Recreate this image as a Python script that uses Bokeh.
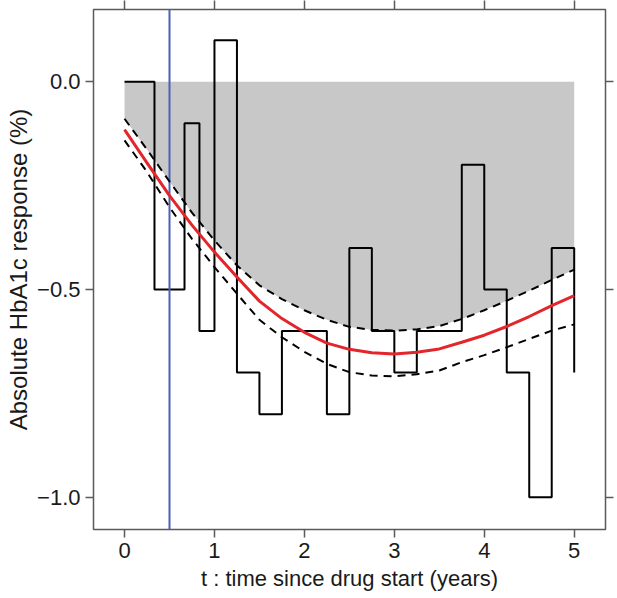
from bokeh.plotting import figure
from bokeh.models import Range1d, FixedTicker, LinearAxis
from bokeh.embed import file_html
from bokeh.resources import INLINE

# Observed responses at visit times (step series)
visit_t = [0.0, 0.333, 0.667, 0.833, 1.0, 1.25, 1.5, 1.75, 2.25, 2.5,
           2.75, 3.0, 3.25, 3.75, 4.0, 4.25, 4.5, 4.75, 5.0]
visit_resp = [0.0, -0.5, -0.1, -0.6, 0.1, -0.7, -0.8, -0.6, -0.8, -0.4,
              -0.6, -0.7, -0.6, -0.2, -0.5, -0.7, -1.0, -0.4, -0.7]

# Fitted response curve and its confidence band
curve_t = [0.0, 0.25, 0.5, 0.75, 1.0, 1.25, 1.5, 1.75, 2.0, 2.25, 2.5,
           2.75, 3.0, 3.25, 3.5, 3.75, 4.0, 4.25, 4.5, 4.75, 5.0]
fit_resp = [-0.115, -0.195, -0.274, -0.345, -0.410, -0.470, -0.528, -0.570,
            -0.603, -0.629, -0.644, -0.652, -0.655, -0.651, -0.643, -0.627,
            -0.610, -0.589, -0.565, -0.539, -0.515]
upper_resp = [-0.089, -0.163, -0.240, -0.315, -0.382, -0.442, -0.490, -0.523,
              -0.550, -0.573, -0.590, -0.597, -0.599, -0.596, -0.588, -0.571,
              -0.550, -0.527, -0.503, -0.477, -0.452]
lower_resp = [-0.141, -0.217, -0.302, -0.378, -0.446, -0.510, -0.573, -0.615,
              -0.650, -0.679, -0.699, -0.707, -0.709, -0.704, -0.695, -0.675,
              -0.658, -0.639, -0.619, -0.599, -0.584]
zero_line = [0.0] * len(curve_t)

marker_t = [0.5]

x_ticks = [0, 1, 2, 3, 4, 5]
y_ticks = [-1.0, -0.5, 0.0]
y_tick_labels = ["\u22121.0", "\u22120.5", "0.0"]

FONT = "Liberation Sans"
FRAME_COL = "#5a5a5a"
TEXT_COL = "#1a1a1a"

p = figure(width=617, height=598, output_backend="svg", toolbar_location=None,
           x_range=Range1d(-0.345, 5.348), y_range=Range1d(-1.0777, 0.174),
           min_border_left=93, min_border_right=12, min_border_top=9,
           min_border_bottom=69)
p.grid.visible = False
p.outline_line_color = FRAME_COL
p.outline_line_width = 1.5
p.background_fill_color = "white"
p.border_fill_color = "white"

# shaded region between zero and upper confidence bound
p.varea(x=curve_t, y1=zero_line, y2=upper_resp, fill_color="#c8c8c8")
# observed step series
p.step(visit_t, visit_resp, mode="after", line_color="black", line_width=2)
# drug start marker
p.vspan(x=marker_t, line_color="#4a60b6", line_width=2)
# confidence band
p.line(curve_t, upper_resp, line_color="black", line_width=2, line_dash="8 6")
p.line(curve_t, lower_resp, line_color="black", line_width=2, line_dash="8 6")
# fitted curve
p.line(curve_t, fit_resp, line_color="#e3262b", line_width=3, line_join="round")

for ax in (p.xaxis[0], p.yaxis[0]):
    ax.axis_line_color = None
    ax.major_tick_line_color = FRAME_COL
    ax.major_tick_line_width = 1.5
    ax.major_tick_in = 0
    ax.major_tick_out = 8
    ax.minor_tick_line_color = None
    ax.major_label_text_font = FONT
    ax.major_label_text_font_size = "22px"
    ax.major_label_text_color = TEXT_COL

p.xaxis[0].ticker = FixedTicker(ticks=x_ticks)
p.xaxis[0].major_label_standoff = 5
p.xaxis[0].axis_label = "t : time since drug start (years)"
p.xaxis[0].axis_label_text_font = FONT
p.xaxis[0].axis_label_text_font_size = "22px"
p.xaxis[0].axis_label_text_font_style = "normal"
p.xaxis[0].axis_label_text_color = TEXT_COL
p.xaxis[0].axis_label_standoff = 5

p.yaxis[0].ticker = FixedTicker(ticks=y_ticks)
p.yaxis[0].major_label_overrides = {v: s for v, s in zip(y_ticks, y_tick_labels)}
p.yaxis[0].major_label_standoff = 5
p.yaxis[0].axis_label = "Absolute HbA1c response (%)"
p.yaxis[0].axis_label_text_font = FONT
p.yaxis[0].axis_label_text_font_size = "24px"
p.yaxis[0].axis_label_text_font_style = "normal"
p.yaxis[0].axis_label_text_color = TEXT_COL
p.yaxis[0].axis_label_standoff = 2

# unlabelled tick marks on the top and right sides (minor ticks carry no labels)
right_ax = LinearAxis(ticker=FixedTicker(ticks=[], minor_ticks=y_ticks),
                      axis_line_color=None, major_tick_line_color=None,
                      minor_tick_line_color=FRAME_COL, minor_tick_line_width=1.5,
                      minor_tick_in=0, minor_tick_out=8, major_label_standoff=0)
p.add_layout(right_ax, "right")
top_ax = LinearAxis(ticker=FixedTicker(ticks=[], minor_ticks=x_ticks),
                    axis_line_color=None, major_tick_line_color=None,
                    minor_tick_line_color=FRAME_COL, minor_tick_line_width=1.5,
                    minor_tick_in=0, minor_tick_out=9, major_label_standoff=0)
p.add_layout(top_ax, "above")

open("out.html", "w").write(file_html(p, INLINE))
